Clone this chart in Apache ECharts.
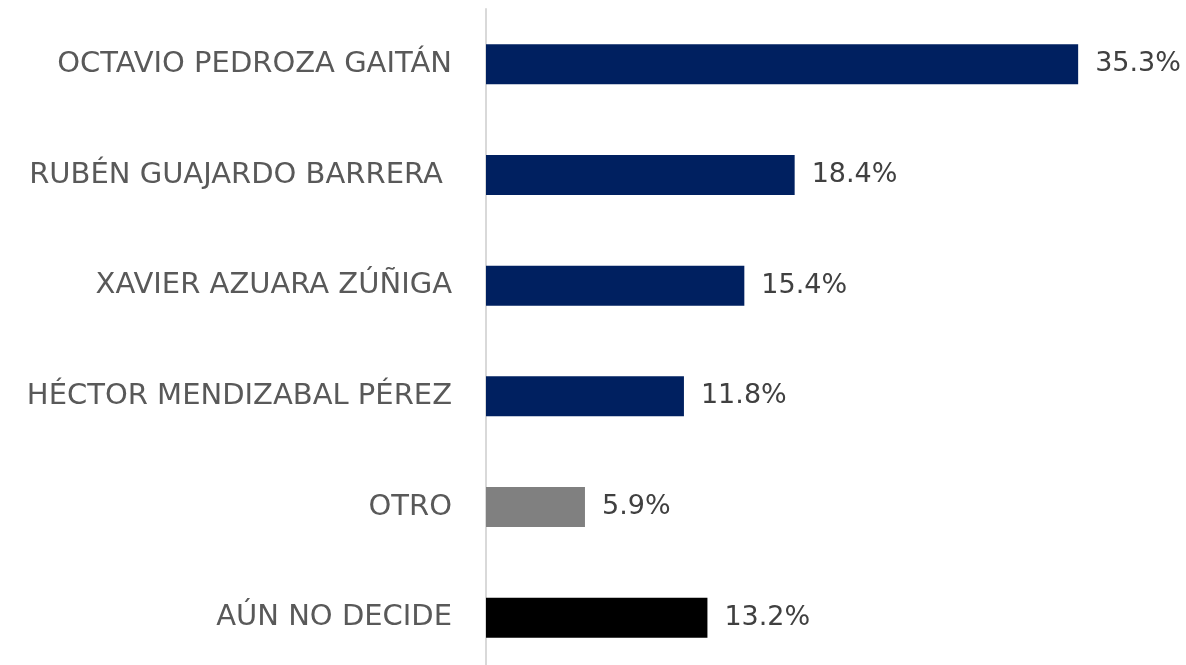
<!DOCTYPE html>
<html>
<head>
<meta charset="utf-8">
<script src="https://cdn.jsdelivr.net/npm/echarts@6/dist/echarts.min.js"></script>
<style>
html, body { margin: 0; padding: 0; background: #fff; overflow: hidden; }
#chart { width: 1186px; height: 673px; }
</style>
</head>
<body>
<div id="chart"></div>
<script>
// candidatos y porcentajes
const categories = ['OCTAVIO PEDROZA GAITÁN', 'RUBÉN GUAJARDO BARRERA ', 'XAVIER AZUARA ZÚÑIGA', 'HÉCTOR MENDIZABAL PÉREZ', 'OTRO', 'AÚN NO DECIDE']
const values = [35.3, 18.4, 15.4, 11.8, 5.9, 13.2]
const barColors = ['#002060', '#002060', '#002060', '#002060', '#808080', '#000000']

// el div es un poco más alto que la ventana: el eje sigue hasta el borde inferior
const chart = echarts.init(document.getElementById('chart'))
const option = {
  animation: false,
  grid: {
    left: 486,
    top: 9,
    width: 671,
    bottom: 0
  },
  xAxis: {
    type: 'value',
    min: 0,
    max: 40,
    show: false
  },
  yAxis: {
    type: 'category',
    inverse: true,
    data: categories,
    axisLine: { lineStyle: { color: '#d9d9d9', width: 2 } },
    axisTick: { show: false },
    axisLabel: {
      margin: 34,
      color: '#595959',
      fontSize: 29,
      fontFamily: 'DejaVu Sans'
    }
  },
  series: [{
    type: 'bar',
    barWidth: 40,
    data: values.map((v, i) => ({ value: v, itemStyle: { color: barColors[i] } })),
    label: {
      show: true,
      position: 'right',
      distance: 17,
      color: '#404040',
      fontSize: 27,
      fontFamily: 'DejaVu Sans',
      formatter: p => p.value.toFixed(1) + '%'
    }
  }]
}
chart.setOption(option)
</script>
</body>
</html>
